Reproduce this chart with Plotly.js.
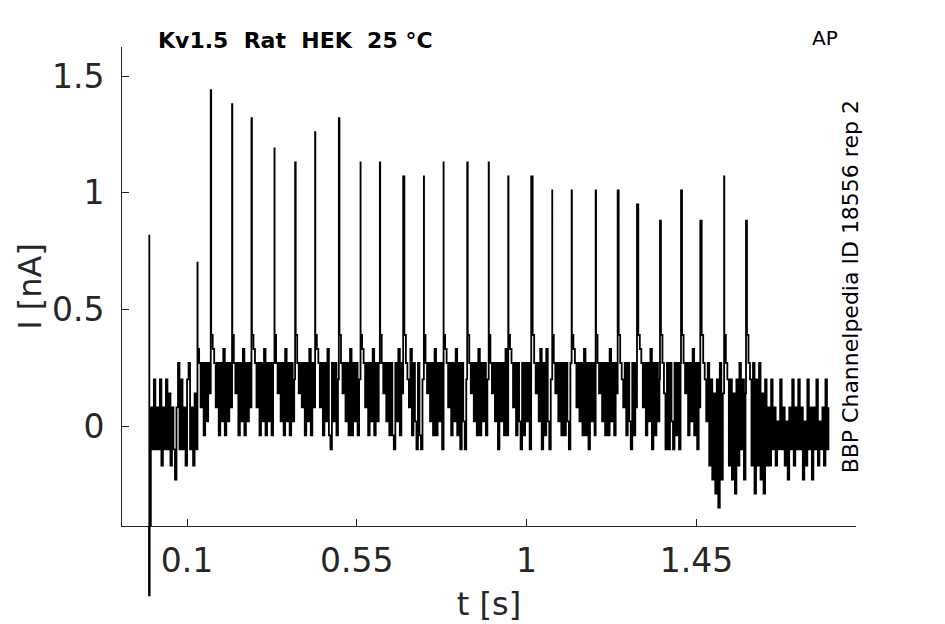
<!DOCTYPE html>
<html>
<head>
<meta charset="utf-8">
<script src="https://cdn.plot.ly/plotly-3.0.1.min.js"></script>
<style>html,body{margin:0;padding:0;background:#fff;}</style>
</head>
<body>
<div id="chart" style="width:945px;height:624px;"></div>
<script>
// sampling step of the trace (s)
const DT = 0.004;

// spike (AP-evoked current) peak times (s) and peak currents (nA)
const spikeT = [0, 0.1276, 0.1628, 0.2193, 0.2707, 0.3317, 0.3864, 0.4394, 0.5023, 0.5598,
  0.611, 0.6728, 0.7277, 0.7799, 0.8425, 0.8995, 0.9512, 1.0122, 1.0679, 1.1193,
  1.183, 1.2413, 1.2925, 1.3535, 1.4092, 1.4603, 1.5235, 1.5815];
const spikeI = [0.82, 0.70, 1.44, 1.38, 1.32, 1.19, 1.13, 1.26, 1.32, 1.13,
  1.13, 1.07, 1.07, 1.13, 1.13, 1.13, 1.07, 1.07, 1.01, 1.01,
  1.01, 1.01, 0.95, 0.88, 1.01, 0.88, 1.07, 0.88];

// baseline current samples (nA), before the stimulus step
const noiseBefore = [
  -0.73, 0.08, -0.1, 0.2, -0.1, 0.08, -0.1, 0.2, -0.17, 0.08,
  -0.1, 0.2, -0.1, 0.14, -0.17, 0.08, -0.1, -0.23, 0.08, 0.27,
  -0.1, 0.2, -0.1, 0.08, -0.17, 0.2, 0.27, -0.1, 0.08, -0.17,
  0.14, -0.1];
// during the AP train
const noiseDuring = [
  0.33, 0.27, 0.08, 0.27, -0.04, 0.27, 0.02, 0.27,
  0.14, 0.39, 0.33, 0.27, 0.08, 0.27, -0.04, 0.27, 0.02, 0.33,
  -0.04, 0.27, 0.02, 0.27, 0.08, 0.39, 0.27, 0.14, 0.27, -0.04,
  0.27, 0.02, 0.33, -0.04, 0.27, 0.02, 0.27, 0.08, 0.39, 0.33,
  0.27, 0.08, 0.27, -0.04, 0.27, 0.02, 0.33, -0.04, 0.27, 0.02,
  0.27, -0.04, 0.27, 0.39, 0.27, 0.14, 0.27, 0.02, 0.27, -0.04,
  0.33, 0.02, 0.27, -0.04, 0.27, 0.02, 0.2, 0.39, 0.27, 0.14,
  0.27, 0.08, 0.27, -0.04, 0.27, 0.02, 0.33, -0.04, 0.27, 0.08,
  0.39, 0.33, 0.27, 0.08, 0.27, -0.04, 0.27, 0.02, 0.33, -0.04,
  -0.1, 0.27, 0.02, 0.27, -0.04, 0.2, 0.39, 0.27, 0.14, 0.27,
  0.02, 0.27, -0.04, 0.33, -0.04, 0.27, 0.02, 0.27, -0.04, 0.2,
  0.39, 0.33, 0.27, 0.08, 0.27, -0.04, 0.27, 0.02, 0.33, -0.04,
  0.27, 0.02, 0.27, 0.39, 0.27, 0.14, 0.27, 0.02, 0.27, -0.04,
  0.27, -0.04, -0.1, 0.27, 0.02, 0.33, -0.04, 0.27, 0.14, 0.39,
  0.27, 0.2, 0.08, 0.33, -0.04, 0.27, 0.02, -0.1, 0.27, -0.04,
  -0.1, 0.2, 0.39, 0.27, 0.14, 0.27, 0.02, 0.27, -0.04, 0.33,
  -0.04, 0.27, 0.02, 0.27, -0.1, 0.39, 0.33, 0.27, 0.08, 0.27,
  -0.04, 0.27, 0.02, 0.33, -0.04, 0.27, -0.1, 0.27, 0.02, -0.1,
  0.2, 0.39, 0.27, 0.14, 0.27, 0.02, 0.27, -0.04, 0.33, -0.04,
  0.27, 0.02, 0.27, -0.04, 0.2, 0.39, 0.27, 0.14, 0.27, 0.02,
  0.27, -0.1, 0.27, 0.02, 0.27, -0.04, 0.33, -0.04, 0.39, 0.33,
  0.27, 0.08, 0.27, -0.04, 0.27, 0.02, -0.1, 0.27, -0.04, 0.27,
  0.02, 0.27, -0.1, 0.2, 0.39, 0.27, 0.14, 0.27, 0.02, 0.33,
  -0.1, 0.27, -0.04, 0.33, 0.02, -0.1, 0.2, 0.39, 0.27, 0.14,
  0.27, 0.02, 0.27, -0.04, 0.27, -0.04, 0.27, 0.02, -0.1, 0.27,
  0.39, 0.33, 0.27, 0.08, 0.27, 0.02, 0.27, -0.04, 0.33, -0.04,
  0.27, -0.1, 0.27, 0.02, 0.27, -0.04, 0.39, 0.27, 0.14, 0.27,
  0.02, 0.27, -0.04, 0.27, -0.04, 0.33, 0.02, 0.27, -0.04, 0.27,
  0.14, 0.39, 0.27, 0.2, 0.08, 0.27, -0.04, 0.27, 0.02, -0.1,
  0.27, -0.04, 0.27, 0.08, 0.39, 0.33, 0.27, 0.08, 0.27, -0.04,
  0.27, 0.02, 0.33, -0.1, 0.27, -0.04, 0.27, 0.02, 0.2, 0.39,
  0.27, 0.14, -0.1, 0.27, -0.1, 0.27, 0.02, -0.1, 0.27, -0.04,
  0.27, -0.1, 0.27, 0.39, 0.27, 0.14, 0.27, -0.04, 0.27, 0.02,
  0.33, -0.04, 0.27, -0.1, 0.27, 0.08, 0.39, 0.27, 0.2, 0.02];
// late part of the train, wider swings
const noiseLate = [
  0.27, -0.17, 0.2, -0.23, 0.14, -0.29, 0.2, -0.35, 0.27, -0.23,
  0.14, 0.39, 0.27, 0.2, -0.17, 0.2, -0.23, 0.14, -0.29, 0.2,
  -0.17, 0.27, -0.1, 0.2, -0.23, 0.14, 0.39, 0.27, 0.2, -0.17,
  0.27, -0.29, 0.2, -0.17, 0.27, -0.23, 0.14, -0.29, 0.2, -0.17];
// after the train
const noiseAfter = [
  0.08, -0.17, 0.2, -0.1, 0.08, -0.17, 0.02, -0.1, 0.2, -0.1,
  0.08, -0.17, 0.02, -0.23, 0.08, -0.1, 0.2, -0.17, 0.08, -0.1,
  0.2, -0.1, 0.08, -0.23, 0.02, -0.17, 0.2, -0.1, 0.08, -0.23,
  0.08, -0.1, 0.2, -0.17, 0.02, -0.1, 0.08, -0.17, 0.2, -0.1,
  0.08];

const xTickVals = [0.1, 0.55, 1, 1.45];
const xTickText = ['0.1', '0.55', '1', '1.45'];
const yTickVals = [0, 0.5, 1, 1.5];
const yTickText = ['0', '0.5', '1', '1.5'];

const titleText = 'Kv1.5\u00a0\u00a0Rat\u00a0\u00a0HEK\u00a0\u00a025 °C';
const cornerText = 'AP';
const sideText = 'BBP Channelpedia ID 18556 rep 2';

const X_RANGE = [-0.0724, 1.873];
const Y_RANGE = [-0.4286, 1.6245];

// assemble the trace: baseline samples on a uniform grid with spike peaks inserted in time order
const noise = noiseBefore.concat(noiseDuring, noiseLate, noiseAfter);
const T = [], Y = [];
let s = 0;
for (let i = 0; i < noise.length; i++) {
  const ti = i * DT;
  while (s < spikeT.length && spikeT[s] <= ti + 1e-9) {
    T.push(spikeT[s]); Y.push(spikeI[s]); s++;
  }
  T.push(+ti.toFixed(4)); Y.push(noise[i]);
}

const FONT = 'DejaVu Sans';
const INK = '#262626';

// part of the first sample's excursion that is drawn past the bottom of the axes
const toPaperY = v => (v - Y_RANGE[0]) / (Y_RANGE[1] - Y_RANGE[0]);
const dipShape = {
  type: 'line', xref: 'x', yref: 'paper',
  x0: T[1], x1: T[1], y0: 0, y1: toPaperY(Y[1]),
  line: {color: '#000', width: 2.5}
};

const trace = {
  x: T, y: Y, type: 'scatter', mode: 'lines',
  line: {color: '#000', width: 1.8, shape: 'hv', simplify: false},
  hoverinfo: 'skip'
};

const layout = {
  width: 945, height: 624,
  margin: {l: 122, r: 89, t: 47, b: 98},
  paper_bgcolor: '#fff', plot_bgcolor: '#fff',
  showlegend: false,
  xaxis: {
    range: X_RANGE, tickmode: 'array', tickvals: xTickVals, ticktext: xTickText,
    ticks: 'inside', ticklen: 7, tickwidth: 1, tickcolor: INK,
    showline: true, linecolor: INK, linewidth: 1, mirror: false,
    showgrid: false, zeroline: false,
    tickfont: {family: FONT, size: 33, color: INK},
    ticklabelstandoff: 5,
    title: {text: 't [s]', font: {family: FONT, size: 32, color: INK}, standoff: 14}
  },
  yaxis: {
    range: Y_RANGE, tickmode: 'array', tickvals: yTickVals, ticktext: yTickText,
    ticks: 'inside', ticklen: 7, tickwidth: 1, tickcolor: INK,
    showline: true, linecolor: INK, linewidth: 1, mirror: false,
    showgrid: false, zeroline: false,
    tickfont: {family: FONT, size: 33, color: INK},
    ticklabelstandoff: 10,
    title: {text: 'I [nA]', font: {family: FONT, size: 32, color: INK}, standoff: 0}
  },
  shapes: [dipShape],
  annotations: [
    {text: '<b>' + titleText + '</b>', xref: 'paper', yref: 'paper', x: 0.046, y: 1.0146,
     xanchor: 'left', yanchor: 'middle', showarrow: false,
     font: {family: FONT, size: 22, color: '#000'}},
    {text: cornerText, xref: 'paper', yref: 'paper', x: 0.958, y: 1.019,
     xanchor: 'center', yanchor: 'middle', showarrow: false,
     font: {family: FONT, size: 20, color: '#000'}},
    {text: sideText, xref: 'paper', yref: 'paper', x: 0.993, y: 0.5,
     xanchor: 'center', yanchor: 'middle', textangle: -90, showarrow: false,
     font: {family: FONT, size: 22, color: '#000'}}
  ]
};

Plotly.newPlot('chart', [trace], layout, {staticPlot: true, displayModeBar: false});
</script>
</body>
</html>
